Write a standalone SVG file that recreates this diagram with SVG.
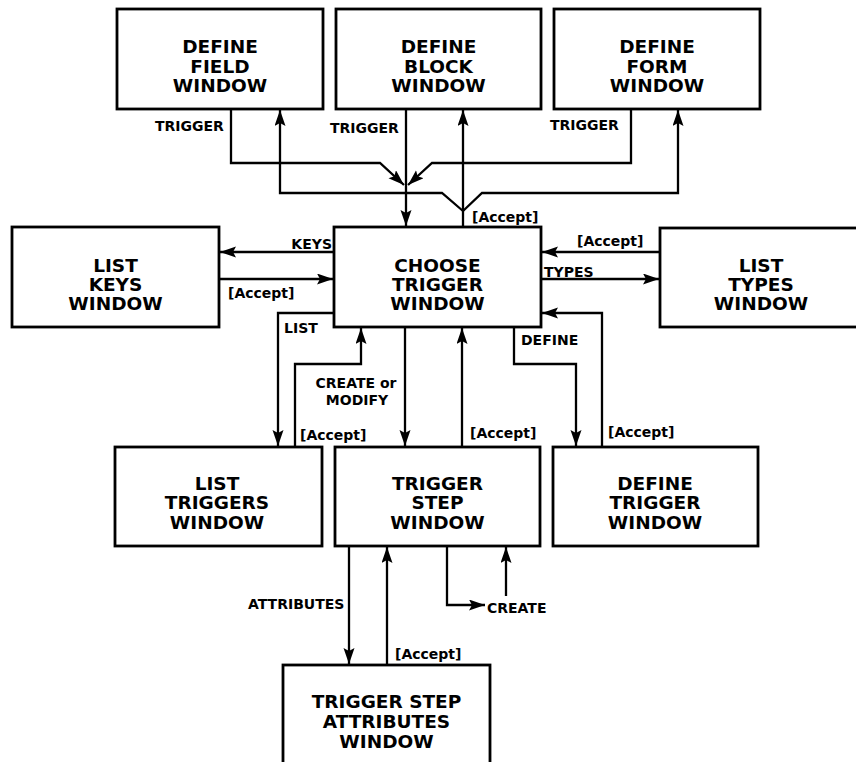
<svg xmlns="http://www.w3.org/2000/svg" width="856" height="762" viewBox="0 0 856 762">
<defs>
<marker id="ah" markerUnits="userSpaceOnUse" markerWidth="17" markerHeight="12" refX="16" refY="5.5" orient="auto">
<path d="M0,0 L16,5.5 L0,11 L3,5.5 z" fill="#000"/>
</marker>
<style>
.box{fill:#fff;stroke:#000;stroke-width:2.8}
.bt{font-family:"DejaVu Sans",sans-serif;font-weight:bold;font-size:18.5px;text-anchor:middle;fill:#000}
.lb{font-family:"DejaVu Sans",sans-serif;font-weight:bold;font-size:14px;fill:#000}
.cn path{fill:none;stroke:#000;stroke-width:2.3;marker-end:url(#ah)}
</style>
</defs>
<rect width="856" height="762" fill="#fff"/>

<g id="define-field">
<rect class="box" x="117" y="9" width="206" height="100"/>
<text class="bt" x="220" y="53">DEFINE</text>
<text class="bt" x="220" y="73">FIELD</text>
<text class="bt" x="220" y="92">WINDOW</text>
</g>
<g id="define-block">
<rect class="box" x="336" y="9" width="205" height="100"/>
<text class="bt" x="438.5" y="53">DEFINE</text>
<text class="bt" x="438.5" y="73">BLOCK</text>
<text class="bt" x="438.5" y="92">WINDOW</text>
</g>
<g id="define-form">
<rect class="box" x="554" y="9" width="206" height="100"/>
<text class="bt" x="657" y="53">DEFINE</text>
<text class="bt" x="657" y="73">FORM</text>
<text class="bt" x="657" y="92">WINDOW</text>
</g>
<g id="list-keys">
<rect class="box" x="12" y="227" width="207" height="100"/>
<text class="bt" x="115.5" y="272">LIST</text>
<text class="bt" x="115.5" y="291">KEYS</text>
<text class="bt" x="115.5" y="310">WINDOW</text>
</g>
<g id="choose-trigger">
<rect class="box" x="334" y="227" width="207" height="100"/>
<text class="bt" x="437.5" y="272">CHOOSE</text>
<text class="bt" x="437.5" y="291">TRIGGER</text>
<text class="bt" x="437.5" y="310">WINDOW</text>
</g>
<g id="list-types">
<rect class="box" x="660" y="228" width="200" height="99"/>
<text class="bt" x="761" y="272">LIST</text>
<text class="bt" x="761" y="291">TYPES</text>
<text class="bt" x="761" y="310">WINDOW</text>
</g>
<g id="list-triggers">
<rect class="box" x="115" y="447" width="207" height="99"/>
<text class="bt" x="217" y="490">LIST</text>
<text class="bt" x="217" y="509">TRIGGERS</text>
<text class="bt" x="217" y="529">WINDOW</text>
</g>
<g id="trigger-step">
<rect class="box" x="335" y="447" width="205" height="99"/>
<text class="bt" x="437.5" y="490">TRIGGER</text>
<text class="bt" x="437.5" y="509">STEP</text>
<text class="bt" x="437.5" y="529">WINDOW</text>
</g>
<g id="define-trigger">
<rect class="box" x="553" y="447" width="205" height="99"/>
<text class="bt" x="655" y="490">DEFINE</text>
<text class="bt" x="655" y="509">TRIGGER</text>
<text class="bt" x="655" y="529">WINDOW</text>
</g>
<g id="trigger-step-attributes">
<rect class="box" x="283" y="665" width="207" height="110"/>
<text class="bt" x="386.5" y="708">TRIGGER STEP</text>
<text class="bt" x="386.5" y="728">ATTRIBUTES</text>
<text class="bt" x="386.5" y="748">WINDOW</text>
</g>

<g id="connectors" class="cn">
<path d="M231,110 V163 H380 L404,185"/>
<path d="M631,110 V163 H432 L408,185"/>
<path d="M406,110 V226"/>
<path d="M463,226 V110"/>
<path d="M463,211 L442,193 H280 V110"/>
<path d="M463,211 L482,193 H678 V110"/>
<path d="M334,252 H220"/>
<path d="M220,279 H333"/>
<path d="M334,313 H278 V446"/>
<path d="M295,446 V364 H361 V328"/>
<path d="M405,328 V446"/>
<path d="M462,446 V328"/>
<path d="M514,328 V364 H576 V446"/>
<path d="M602,446 V313 H542"/>
<path d="M659,252 H542"/>
<path d="M542,279 H659"/>
<path d="M349,547 V664"/>
<path d="M387,664 V547"/>
<path d="M447,547 V605 H485"/>
<path d="M506,596 V547"/>
</g>

<g id="labels">
<text class="lb" x="155" y="131">TRIGGER</text>
<text class="lb" x="330" y="133">TRIGGER</text>
<text class="lb" x="550" y="130">TRIGGER</text>
<text class="lb" x="472" y="222">[Accept]</text>
<text class="lb" x="332" y="249" text-anchor="end">KEYS</text>
<text class="lb" x="228" y="298">[Accept]</text>
<text class="lb" x="577" y="246">[Accept]</text>
<text class="lb" x="544" y="277">TYPES</text>
<text class="lb" x="284" y="333">LIST</text>
<text class="lb" x="356" y="388" text-anchor="middle">CREATE or</text>
<text class="lb" x="357" y="405" text-anchor="middle">MODIFY</text>
<text class="lb" x="521" y="345">DEFINE</text>
<text class="lb" x="300" y="440">[Accept]</text>
<text class="lb" x="470" y="438">[Accept]</text>
<text class="lb" x="608" y="437">[Accept]</text>
<text class="lb" x="248" y="609">ATTRIBUTES</text>
<text class="lb" x="487" y="613">CREATE</text>
<text class="lb" x="395" y="659">[Accept]</text>
</g>
</svg>
